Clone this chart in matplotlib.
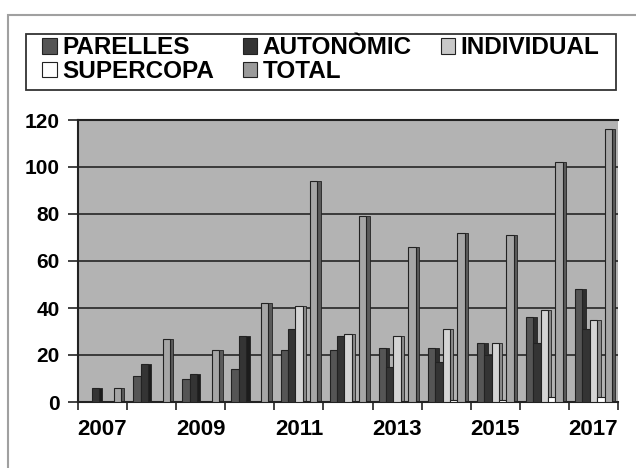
import numpy as np
import matplotlib
matplotlib.use("Agg")
import matplotlib.pyplot as plt
from matplotlib.patches import Patch, Rectangle

plt.rcParams["font.family"] = ["Liberation Sans", "DejaVu Sans"]
plt.rcParams["font.weight"] = "bold"

# dades
anys = [2007, 2008, 2009, 2010, 2011, 2012, 2013, 2014, 2015, 2016, 2017]
parelles = [0, 11, 10, 14, 22, 22, 23, 23, 25, 36, 48]
autonomic = [6, 16, 12, 28, 31, 28, 15, 17, 20, 25, 31]
individual = [0, 0, 0, 0, 41, 29, 28, 31, 25, 39, 35]
supercopa = [0, 0, 0, 0, 0, 0, 0, 1, 1, 2, 2]
total = [6, 27, 22, 42, 94, 79, 66, 72, 71, 102, 116]
etiquetes_x = ["2007", "2009", "2011", "2013", "2015", "2017"]

series = [
  ("PARELLES", parelles, "#555555", "#2e2e2e"),
  ("AUTONÒMIC", autonomic, "#343434", "#1c1c1c"),
  ("INDIVIDUAL", individual, "#d4d4d4", "#8a8a8a"),
  ("SUPERCOPA", supercopa, "#ffffff", "#9a9a9a"),
  ("TOTAL", total, "#a6a6a6", "#5a5a5a"),
]
colors_llegenda = ["#555555", "#343434", "#c8c8c8", "#ffffff", "#9a9a9a"]

fig = plt.figure(figsize=(6.36, 4.68), dpi=100)
fig.patch.set_facecolor("white")

# marc exterior
fig.patches.append(Rectangle((8 / 636, -0.1), 1.2, 1 - 15 / 468 + 0.1,
                             transform=fig.transFigure, fill=False,
                             edgecolor="#a0a0a0", linewidth=1.5))

# marc de la llegenda
fig.patches.append(Rectangle((26 / 636, 1 - 90 / 468), 590 / 636, 56 / 468,
                             transform=fig.transFigure, facecolor="white",
                             edgecolor="#333333", linewidth=1.3))

ax = fig.add_axes([78 / 636, 1 - 402 / 468, 540 / 636, 282 / 468])
ax.set_facecolor("#b3b3b3")

x = np.arange(len(anys))
amplada = 0.15
fons = 0.07
desp = [-0.3, -0.15, 0.0, 0.15, 0.3]

# graella
for v in range(20, 121, 20):
  ax.axhline(v, color="#3a3a3a", linewidth=1.4, zorder=1)

# barres amb efecte 3D
for (nom, valors, color, costat), d in zip(series, desp):
  ax.bar(x + d + amplada / 2 + fons / 2, valors, width=fons, color=costat,
         edgecolor="#222222", linewidth=0.6, zorder=2)
  ax.bar(x + d, valors, width=amplada, color=color,
         edgecolor="#222222", linewidth=0.8, zorder=3)

ax.set_xlim(-0.5, len(anys) - 0.5)
ax.set_ylim(0, 120)
ax.set_yticks(range(0, 121, 20))
ax.set_xticks(x[::2])
ax.set_xticklabels(etiquetes_x)
ax.set_xticks(np.arange(-0.5, len(anys)), minor=True)
ax.tick_params(axis="x", which="major", length=0, pad=12, labelsize=16)
ax.tick_params(axis="x", which="minor", length=6, width=1.2, color="#222222")
ax.tick_params(axis="y", length=7, width=1.2, color="#222222", pad=6, labelsize=15)

for s in ["top", "left", "bottom"]:
  ax.spines[s].set_color("#222222")
  ax.spines[s].set_linewidth(1.5)
ax.spines["right"].set_visible(False)

# llegenda
handles = [Patch(facecolor=c, edgecolor="#222222", linewidth=0.8)
           for c in colors_llegenda]
noms = [s[0] for s in series]
ordre = [0, 3, 1, 4, 2]
leg = fig.legend([handles[i] for i in ordre], [noms[i] for i in ordre],
                 ncol=3, loc="upper left", bbox_to_anchor=(40 / 636, 1 - 34 / 468),
                 frameon=False, prop={"size": 17.5, "weight": "bold"},
                 handlelength=0.6, handleheight=0.6, handletextpad=0.2,
                 columnspacing=1.2, labelspacing=0.02, borderpad=0.1,
                 borderaxespad=0)

plt.savefig("out.png", dpi=100)
plt.close()
